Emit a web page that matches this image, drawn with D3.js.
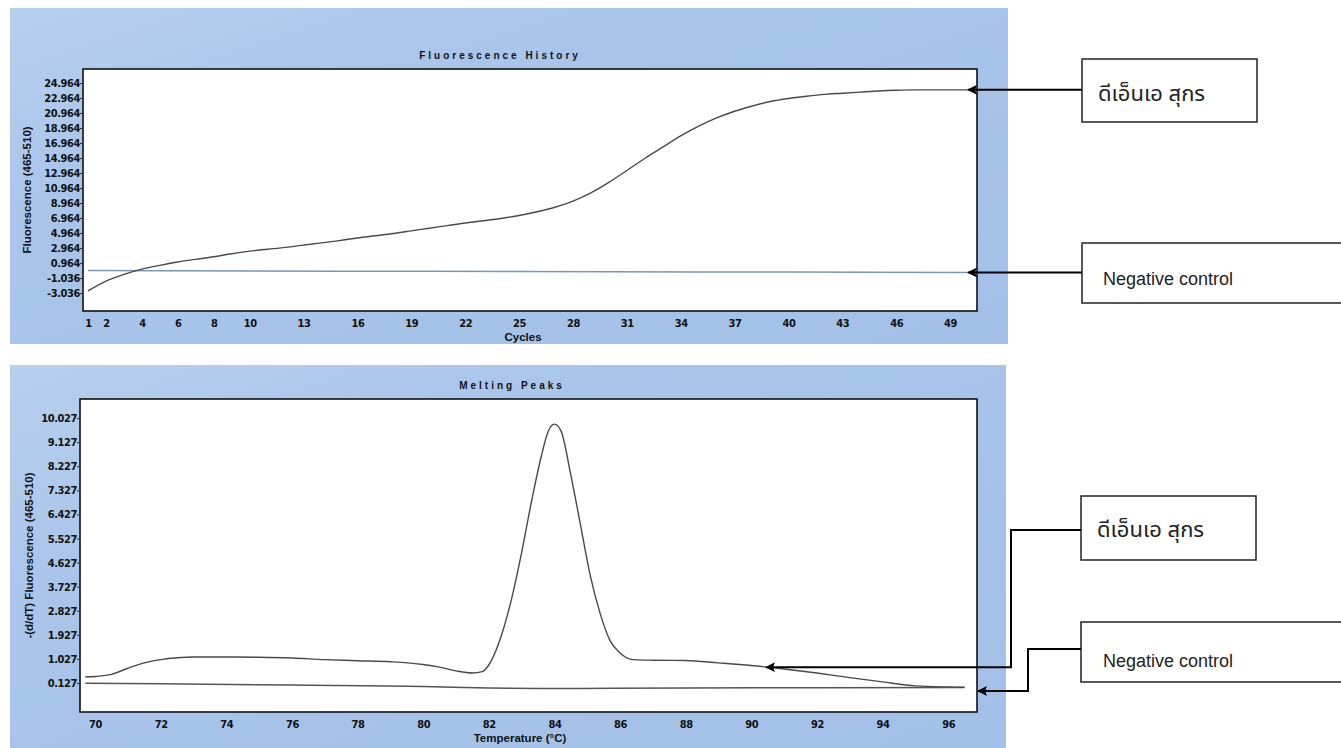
<!DOCTYPE html>
<html>
<head>
<meta charset="utf-8">
<script src="https://cdn.jsdelivr.net/npm/d3@7"></script>
<style>
  body { margin: 0; background: #fff; }
  svg { display: block; }
  .tick text { font-family: "Liberation Sans Narrow", "DejaVu Sans Condensed", "Arial Narrow", sans-serif; font-weight: bold; font-size: 11px; fill: #111; letter-spacing: -0.4px; }
  .ttl { font-family: "Liberation Sans", Arial, sans-serif; font-weight: 900; font-size: 10px; letter-spacing: 3px; fill: #111; }
  .axt { font-family: "Liberation Sans", Arial, sans-serif; font-weight: bold; font-size: 11.5px; fill: #111; }
  .lbl { font-family: "Liberation Sans", Arial, sans-serif; font-size: 18px; fill: #222; }
  .lblth { font-family: "Noto Sans Thai", "Loma", "Garuda", "Tlwg Typo", sans-serif; font-size: 22px; fill: #222; }
</style>
</head>
<body>
<div id="chart"></div>
<script>
// Fluorescence History (amplification)
var cycles = [1,2,3,4,5,6,7,8,9,10,11,12,13,14,15,16,17,18,19,20,21,22,23,24,25,
              26,27,28,29,30,31,32,33,34,35,36,37,38,39,40,41,42,43,44,45,46,47,48,49,50];
var sampleFluor = [-2.75,-1.45,-0.55,0.15,0.65,1.1,1.45,1.8,2.2,2.55,2.8,3.05,3.35,3.65,3.95,
                   4.3,4.6,4.9,5.25,5.6,5.95,6.3,6.6,6.9,7.3,7.8,8.4,9.2,10.3,11.7,13.3,14.9,
                   16.4,17.9,19.2,20.3,21.2,21.9,22.5,22.9,23.2,23.45,23.6,23.75,23.9,24.0,
                   24.05,24.05,24.05,24.05];
var negCycles = [1,10,20,30,40,50];
var negFluor = [-0.05,-0.1,-0.15,-0.2,-0.25,-0.3];
var cycleTicks = [1,2,4,6,8,10,13,16,19,22,25,28,31,34,37,40,43,46,49];
var fluorTicks = [-3.036,-1.036,0.964,2.964,4.964,6.964,8.964,10.964,12.964,14.964,16.964,18.964,20.964,22.964,24.964];

// Melting Peaks
var temps = [69.7,70,70.5,71,71.5,72,72.5,73,74,75,76,77,78,79,80,80.5,81,81.5,81.8,82,82.3,82.7,
             83,83.3,83.6,83.8,84,84.2,84.5,84.8,85.1,85.4,85.7,86,86.4,87,88,89,90,91,92,93,94,95,96,96.5];
var sampleMelt = [0.35,0.37,0.45,0.68,0.88,1.0,1.07,1.1,1.1,1.09,1.06,1.0,0.96,0.92,0.82,0.72,0.58,0.5,
                  0.55,0.8,1.6,3.3,5.0,6.9,8.6,9.5,9.8,9.55,7.9,6.0,4.1,2.7,1.7,1.25,1.0,0.98,0.97,
                  0.88,0.78,0.65,0.5,0.33,0.17,0.02,-0.02,-0.03];
var negTemps = [69.7,72,76,80,82,84,88,92,96.5];
var negMelt = [0.12,0.1,0.05,0.0,-0.06,-0.08,-0.06,-0.05,-0.04];
var tempTicks = [70,72,74,76,78,80,82,84,86,88,90,92,94,96];
var meltTicks = [0.127,1.027,1.927,2.827,3.727,4.627,5.527,6.427,7.327,8.227,9.127,10.027];

var labelSample = "ดีเอ็นเอ สุกร";
var labelNeg = "Negative control";

var svg = d3.select("#chart").append("svg").attr("width", 1341).attr("height", 748);

var defs = svg.append("defs");
var grad = defs.append("linearGradient").attr("id", "panelBlue")
    .attr("x1", "0").attr("y1", "0").attr("x2", "1").attr("y2", "1");
grad.append("stop").attr("offset", "0").attr("stop-color", "#b8d0ef");
grad.append("stop").attr("offset", "0.3").attr("stop-color", "#a9c5ea");
grad.append("stop").attr("offset", "1").attr("stop-color", "#a3c0e8");
defs.append("marker").attr("id", "arrow")
    .attr("viewBox", "0 0 10 10").attr("refX", 9).attr("refY", 5)
    .attr("markerWidth", 8).attr("markerHeight", 5).attr("markerUnits", "strokeWidth")
    .attr("orient", "auto")
  .append("path").attr("d", "M0,0 L10,5 L0,10 L2,5 z").attr("fill", "#000");

/* one instrument panel: blue frame, white plot box, axes, two curves */
function drawPanel(cfg) {
    var g = svg.append("g");
    g.append("rect").attr("x", cfg.panel[0]).attr("y", cfg.panel[1])
        .attr("width", cfg.panel[2]).attr("height", cfg.panel[3])
        .attr("fill", "url(#panelBlue)");

    var x = d3.scaleLinear().domain(cfg.xDomain).range([cfg.box.left, cfg.box.right]);
    var y = d3.scaleLinear().domain(cfg.yDomain).range([cfg.box.bottom, cfg.box.top]);

    g.append("rect").attr("x", cfg.box.left).attr("y", cfg.box.top)
        .attr("width", cfg.box.right - cfg.box.left).attr("height", cfg.box.bottom - cfg.box.top)
        .attr("fill", "#fff").attr("stroke", "#111").attr("stroke-width", 1.6);

    var yAxis = g.append("g").attr("transform", "translate(" + cfg.box.left + ",0)")
        .call(d3.axisLeft(y).tickValues(cfg.yTicks).tickSize(3).tickSizeOuter(0)
            .tickFormat(function(d){ return d.toFixed(3); }));
    yAxis.select(".domain").remove();
    yAxis.selectAll(".tick line").attr("stroke", "#333");
    yAxis.selectAll(".tick text").attr("x", -3);

    var xAxis = g.append("g").attr("transform", "translate(0," + cfg.box.bottom + ")")
        .call(d3.axisBottom(x).tickValues(cfg.xTicks).tickSize(0).tickSizeOuter(0)
            .tickFormat(d3.format("d")));
    xAxis.select(".domain").remove();
    xAxis.selectAll(".tick text").attr("y", 8);

    g.append("text").attr("class", "ttl").attr("x", cfg.titleX).attr("y", cfg.box.top - 10)
        .attr("text-anchor", "middle").text(cfg.title);
    g.append("text").attr("class", "axt").attr("x", cfg.xTitleX).attr("y", cfg.box.bottom + 30)
        .attr("text-anchor", "middle").text(cfg.xTitle);
    g.append("text").attr("class", "axt")
        .attr("transform", "translate(" + cfg.yTitleX + "," + ((cfg.box.top + cfg.box.bottom) / 2) + ") rotate(-90)")
        .attr("text-anchor", "middle").text(cfg.yTitle);

    var line = d3.line().curve(d3.curveMonotoneX)
        .x(function(d){ return x(d[0]); }).y(function(d){ return y(d[1]); });
    g.append("path").datum(d3.zip(cfg.negX, cfg.negY)).attr("d", line)
        .attr("fill", "none").attr("stroke", cfg.negColor).attr("stroke-width", 1.5);
    g.append("path").datum(d3.zip(cfg.sampleX, cfg.sampleY)).attr("d", line)
        .attr("fill", "none").attr("stroke", "#4a4a48").attr("stroke-width", 1.4);

    return { x: x, y: y };
}

function labelBox(x0, y0, w, h, text, cls, tx, ty) {
    svg.append("rect").attr("x", x0).attr("y", y0).attr("width", w).attr("height", h)
        .attr("fill", "#fff").attr("stroke", "#222").attr("stroke-width", 1.5);
    svg.append("text").attr("class", cls).attr("x", tx).attr("y", ty).text(text);
}

function connector(d) {
    svg.append("path").attr("d", d).attr("fill", "none")
        .attr("stroke", "#000").attr("stroke-width", 2).attr("marker-end", "url(#arrow)");
}

var ampPanel = drawPanel({
    panel: [10, 8, 998, 336],
    box: { left: 83, right: 977, top: 69, bottom: 311 },
    xDomain: [0.72, 50.5], yDomain: [-5.44, 26.83],
    xTicks: cycleTicks, yTicks: fluorTicks,
    title: "Fluorescence History", titleX: 500,
    xTitle: "Cycles", xTitleX: 523,
    yTitle: "Fluorescence (465-510)", yTitleX: 31,
    sampleX: cycles, sampleY: sampleFluor,
    negX: negCycles, negY: negFluor, negColor: "#7896b8"
});

var meltPanel = drawPanel({
    panel: [10, 365, 996, 383],
    box: { left: 80, right: 977, top: 399, bottom: 712 },
    xDomain: [69.54, 96.88], yDomain: [-0.956, 10.74],
    xTicks: tempTicks, yTicks: meltTicks,
    title: "Melting Peaks", titleX: 512,
    xTitle: "Temperature (°C)", xTitleX: 520,
    yTitle: "-(d/dT) Fluorescence (465-510)", yTitleX: 33,
    sampleX: temps, sampleY: sampleMelt,
    negX: negTemps, negY: negMelt, negColor: "#555"
});

// labels on the right with arrows pointing to the curves
labelBox(1082, 59, 175, 63, labelSample, "lblth", 1098, 101);
labelBox(1082, 243, 280, 60, labelNeg, "lbl", 1103, 285);
connector("M1082," + ampPanel.y(sampleFluor[sampleFluor.length - 1]) + " H968");
connector("M1082," + ampPanel.y(negFluor[negFluor.length - 1]) + " H968");

labelBox(1081, 496, 175, 64, labelSample, "lblth", 1097, 537);
labelBox(1081, 622, 280, 60, labelNeg, "lbl", 1103, 667);
connector("M1081,530 H1011 V" + meltPanel.y(0.72) + " H" + meltPanel.x(90.45));
connector("M1081,649 H1028 V691 H978");
</script>
</body>
</html>
